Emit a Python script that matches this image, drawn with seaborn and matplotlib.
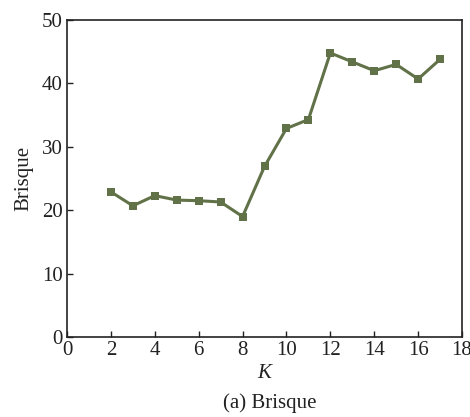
import matplotlib
matplotlib.use("Agg")
import matplotlib.pyplot as plt
import seaborn as sns
import pandas as pd

K = [2, 3, 4, 5, 6, 7, 8, 9, 10, 11, 12, 13, 14, 15, 16, 17]
brisque = [22.9, 20.7, 22.3, 21.6, 21.5, 21.3, 19.0, 26.9, 32.9, 34.3, 44.8, 43.4, 42.0, 43.0, 40.7, 43.8]
xticks = [0, 2, 4, 6, 8, 10, 12, 14, 16, 18]
yticks = [0, 10, 20, 30, 40, 50]

sns.set_theme(style="ticks")
plt.rcParams['font.family'] = ['Liberation Serif', 'DejaVu Serif']
plt.rcParams['mathtext.fontset'] = 'stix'

df = pd.DataFrame({"K": K, "Brisque": brisque})

fig = plt.figure(figsize=(4.7, 4.17), dpi=100)
ax = fig.add_axes([0.1426, 0.1918, 0.8404, 0.7602])
sns.lineplot(data=df, x="K", y="Brisque", ax=ax, color="#617148", marker="s",
             markersize=5.5, markeredgewidth=0, linewidth=2.2)
ax.set_xlim(0, 18)
ax.set_ylim(0, 50)
ax.set_xticks(xticks)
ax.set_yticks(yticks)
ax.tick_params(direction="in", length=4, width=1, labelsize=15, colors="#222222", pad=3)
for s in ax.spines.values():
    s.set_visible(True)
    s.set_linewidth(1.2)
    s.set_color("#222222")
ax.set_xlabel("K", fontsize=15, fontstyle="italic", labelpad=3, color="#222222")
ax.set_ylabel("Brisque", fontsize=15, labelpad=6, color="#222222")
fig.text(0.5745, 0.033, "(a) Brisque", ha="center", va="center", fontsize=15, color="#222222")
fig.savefig("out.png", dpi=100)
